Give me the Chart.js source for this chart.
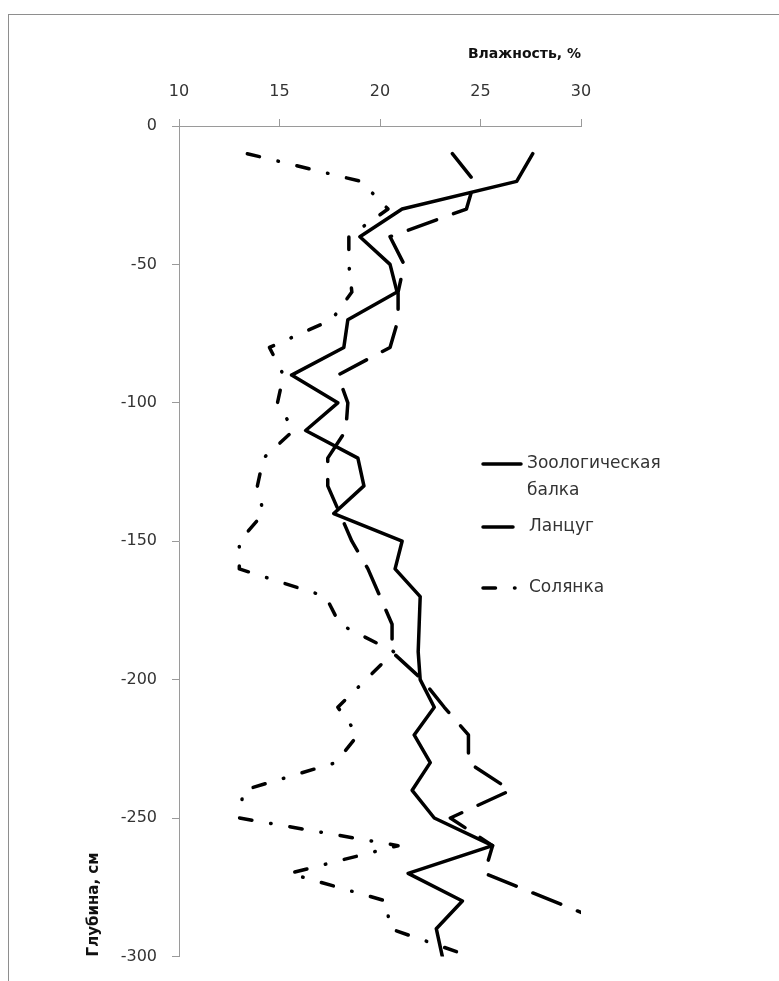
<!DOCTYPE html>
<html lang="ru">
<head>
<meta charset="utf-8">
<script src="https://cdn.jsdelivr.net/npm/chart.js@4.4.0/dist/chart.umd.min.js"></script>
<style>
  html, body { margin: 0; padding: 0; background: #fff; }
  #frame {
    position: absolute; left: 8px; top: 14px; width: 820px; height: 1000px;
    border-left: 1px solid #8e8e8e; border-top: 1px solid #8e8e8e;
  }
  #chart { position: absolute; left: 0; top: 0; }
</style>
</head>
<body>
<div id="frame"></div>
<canvas id="chart" width="779" height="981"></canvas>
<script>
"use strict";

// depth of each sample, cm (plotted as negative values)
const depths = [10, 20, 30, 40, 50, 60, 70, 80, 90, 100, 110, 120, 130, 140, 150,
    160, 170, 180, 190, 200, 210, 220, 230, 240, 250, 260, 270, 280, 290, 300];

const seriesNames = ["Зоологическая балка", "Ланцуг", "Солянка"];

// moisture, %
const zoologicheskaya = [27.6, 26.8, 21.1, 19.0, 20.5, 20.85, 18.4, 18.2, 15.6, 17.9,
    16.3, 18.9, 19.2, 17.7, 21.1, 20.75, 22.0, 21.95, 21.9, 22.0,
    22.7, 21.7, 22.5, 21.6, 22.7, 25.6, 21.4, 24.1, 22.8, 23.1];
const lantsug = [23.6, 24.7, 24.3, 20.5, 21.2, 20.9, 20.9, 20.5, 17.9, 18.4,
    18.3, 17.4, 17.4, 18.0, 18.6, 19.4, 20.0, 20.6, 20.6, 22.1,
    23.2, 24.4, 24.4, 26.5, 23.5, 25.6, 25.2, null, 32.0, null];
const solyanka = [13.4, 19.05, 20.4, 18.45, 18.45, 18.6, 17.6, 14.5, 15.2, 14.9,
    15.7, 14.2, 13.9, 14.2, 13.0, 13.0, 17.3, 18.0, 20.7, 19.3,
    17.9, 18.9, 17.8, 13.2, 13.0, 20.9, 15.5, 20.3, 20.5, 24.5];

const xTicks = [10, 15, 20, 25, 30];
const yTicks = [0, -50, -100, -150, -200, -250, -300];

const dashes = [[], [30, 18], [12.5, 19, 0.5, 19]];
const axisGray = "#9a9a9a";
const textColor = "#333";
const fontFamily = "'DejaVu Sans', sans-serif";

function toPoints(values) {
    return values.map((v, i) => ({ x: v, y: v === null ? null : -depths[i] }));
}

const datasets = [zoologicheskaya, lantsug, solyanka].map((values, i) => ({
    label: seriesNames[i],
    data: toPoints(values),
    showLine: true,
    spanGaps: true,
    borderColor: "#000",
    backgroundColor: "#000",
    borderWidth: 3.5,
    borderDash: dashes[i],
    borderCapStyle: "round",
    borderJoinStyle: "round",
    pointRadius: 0,
    pointHoverRadius: 0
}));

// legend drawn over the plot on the right, like the original
const sideLegend = {
    id: "sideLegend",
    afterDraw(chart) {
        const ctx = chart.ctx;
        const rowsY = [464, 527, 588];
        ctx.save();
        ctx.font = "17px " + fontFamily;
        ctx.textBaseline = "middle";
        seriesNames.forEach((name, i) => {
            const y = rowsY[i];
            ctx.strokeStyle = "#000";
            ctx.lineWidth = 3.5;
            ctx.lineCap = "round";
            ctx.setLineDash(dashes[i]);
            ctx.beginPath();
            ctx.moveTo(483, y);
            ctx.lineTo(i === 0 ? 521 : 515, y);
            ctx.stroke();
            ctx.setLineDash([]);
            ctx.fillStyle = textColor;
            name.split(" ").forEach((line, j) => {
                ctx.fillText(line, i === 0 ? 527 : 529, y + j * 27);
            });
        });
        ctx.restore();
    }
};

new Chart(document.getElementById("chart"), {
    type: "scatter",
    data: { datasets: datasets },
    plugins: [sideLegend],
    options: {
        responsive: false,
        animation: false,
        layout: { padding: { left: 81, top: 42, right: 198, bottom: 13 } },
        plugins: {
            legend: { display: false },
            tooltip: { enabled: false }
        },
        scales: {
            x: {
                type: "linear",
                position: "top",
                min: 10,
                max: 30,
                afterBuildTicks: scale => { scale.ticks = xTicks.map(v => ({ value: v })); },
                afterFit: scale => { scale.height = 84; },
                ticks: {
                    color: textColor,
                    padding: 18,
                    font: { family: fontFamily, size: 16 }
                },
                grid: { drawOnChartArea: false, tickLength: 7, color: axisGray },
                border: { color: axisGray },
                title: {
                    display: true,
                    text: "Влажность, %",
                    align: "end",
                    color: "#111",
                    font: { family: fontFamily, size: 14, weight: "bold" }
                }
            },
            y: {
                type: "linear",
                min: -300,
                max: 0,
                afterBuildTicks: scale => { scale.ticks = yTicks.map(v => ({ value: v })); },
                afterFit: scale => { scale.width = 98; },
                ticks: {
                    color: textColor,
                    padding: 15,
                    font: { family: fontFamily, size: 16 }
                },
                grid: { drawOnChartArea: false, tickLength: 7, color: axisGray },
                border: { color: axisGray },
                title: {
                    display: true,
                    text: "Глубина, см",
                    align: "start",
                    color: "#111",
                    font: { family: fontFamily, size: 15, weight: "bold" }
                }
            }
        }
    }
});
</script>
</body>
</html>
